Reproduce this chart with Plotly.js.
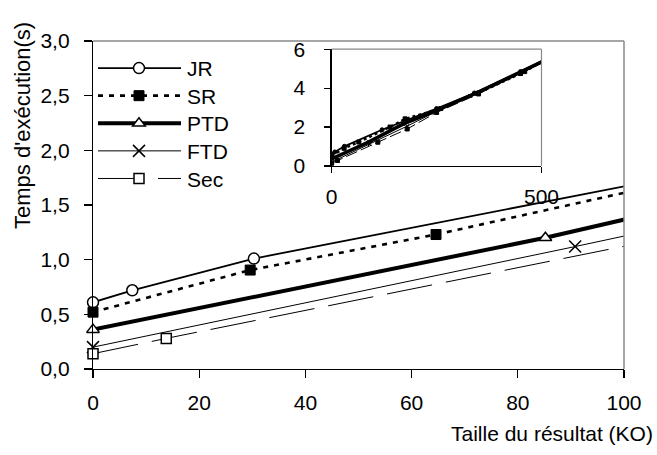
<!DOCTYPE html>
<html><head><meta charset="utf-8">
<script src="https://cdn.plot.ly/plotly-3.0.1.min.js"></script>
<style>html,body{margin:0;padding:0;background:#fff}</style>
</head><body>
<div id="chart" style="width:657px;height:455px"></div>
<script>
// ---- data ----
const seriesNames = ['JR', 'SR', 'PTD', 'FTD', 'Sec'];
const jrX  = [0, 7.4, 30.3, 120, 250, 340, 450, 520];
const jrY  = [0.61, 0.72, 1.01, 1.86, 2.95, 3.75, 4.85, 5.6];
const srX  = [0, 29.6, 64.6, 139, 175, 260, 350, 460, 520];
const srY  = [0.52, 0.905, 1.23, 2.0, 2.42, 2.95, 3.75, 4.85, 5.6];
const ptdX = [0, 85.2, 170, 250, 340, 450, 520];
const ptdY = [0.36, 1.20, 2.15, 2.85, 3.7, 4.8, 5.55];
const ftdX = [0, 90.8, 180, 250, 330, 450, 520];
const ftdY = [0.20, 1.12, 2.05, 2.8, 3.6, 4.75, 5.5];
const secX = [0, 13.8, 110, 180, 250, 350, 450, 520];
const secY = [0.14, 0.28, 1.22, 1.9, 2.75, 3.7, 4.75, 5.5];

const yTitle = "Temps d'exécution(s)";
const xTitle = "Taille du résultat (KO)";

const FONT = '"Liberation Sans", Arial, sans-serif';
const FS = 21;

const xs = [jrX, srX, ptdX, ftdX, secX];
const ys = [jrY, srY, ptdY, ftdY, secY];
const lineStyles = [
  {color: '#000', width: 1.8, dash: 'solid'},
  {color: '#000', width: 2.6, dash: '5px,6px'},
  {color: '#000', width: 4, dash: 'solid'},
  {color: '#000', width: 1, dash: 'solid'},
  {color: '#000', width: 1, dash: '46px,14px'}
];
const markerStyles = [
  {symbol: 'circle', size: 11, color: '#fff', line: {color: '#000', width: 1.5}},
  {symbol: 'square', size: 10, color: '#000', line: {color: '#000', width: 1}},
  {symbol: 'triangle-up', size: 11, color: '#fff', line: {color: '#000', width: 1.5}},
  {symbol: 'x-thin', size: 12, color: '#000', line: {color: '#000', width: 1.5}},
  {symbol: 'square', size: 10, color: '#fff', line: {color: '#000', width: 1.5}}
];
const insetLines = [
  {color: '#000', width: 1.8, dash: 'solid'},
  {color: '#000', width: 2.4, dash: '3px,3px'},
  {color: '#000', width: 3.5, dash: 'solid'},
  {color: '#000', width: 1, dash: 'solid'},
  {color: '#000', width: 1, dash: '12px,4px'}
];

const traces = [];
seriesNames.forEach((n, i) => {
  traces.push({
    type: 'scatter', mode: 'lines+markers', name: n,
    x: xs[i], y: ys[i], xaxis: 'x', yaxis: 'y',
    line: lineStyles[i], marker: markerStyles[i], cliponaxis: false
  });
});
seriesNames.forEach((n, i) => {
  traces.push({
    type: 'scatter', mode: 'lines+markers', name: n, showlegend: false,
    x: xs[i], y: ys[i], xaxis: 'x2', yaxis: 'y2',
    line: insetLines[i],
    marker: {symbol: markerStyles[i].symbol, size: 4, color: '#000', line: {color: '#000', width: 1}}
  });
});

const axBase = {
  showline: true, linecolor: '#000', linewidth: 1.2, mirror: false,
  showgrid: false, zeroline: false, ticks: 'outside', tickcolor: '#000',
  tickwidth: 1.2, tickfont: {family: FONT, size: FS, color: '#000'}, fixedrange: true
};

const layout = {
  width: 657, height: 455,
  paper_bgcolor: '#fff', plot_bgcolor: 'rgba(0,0,0,0)',
  margin: {l: 93, r: 33, t: 41, b: 86},
  separators: ', ',
  font: {family: FONT, size: FS, color: '#000'},
  showlegend: true,
  legend: {
    x: 0.0, xanchor: 'left', y: 0.985, yanchor: 'top',
    bgcolor: 'rgba(0,0,0,0)', borderwidth: 0,
    font: {family: FONT, size: FS, color: '#000'},
    itemwidth: 84, tracegroupgap: 0
  },
  xaxis: Object.assign({}, axBase, {
    domain: [0, 1], anchor: 'y', range: [0, 100], tick0: 0, dtick: 20,
    ticklen: 8, ticklabelstandoff: 7
  }),
  yaxis: Object.assign({}, axBase, {
    domain: [0, 1], anchor: 'x', range: [0, 3], tick0: 0, dtick: 0.5,
    tickformat: '.1f', ticklen: 8, ticklabelstandoff: 10
  }),
  xaxis2: Object.assign({}, axBase, {
    domain: [0.4495, 0.8446], anchor: 'y2', range: [0, 500], tick0: 0, dtick: 500,
    ticklen: 6, ticklabelstandoff: 6
  }),
  yaxis2: Object.assign({}, axBase, {
    domain: [0.619, 0.975], anchor: 'x2', range: [0, 6], tick0: 0, dtick: 2,
    ticklen: 6, ticklabelstandoff: 15
  }),
  shapes: [
    {type: 'line', xref: 'paper', yref: 'paper', x0: 0, x1: 1, y0: 1, y1: 1, line: {color: '#888', width: 1.5}},
    {type: 'line', xref: 'paper', yref: 'paper', x0: 1, x1: 1, y0: 0, y1: 1, line: {color: '#888', width: 1.5}},
    {type: 'line', xref: 'x2 domain', yref: 'y2 domain', x0: 0, x1: 1, y0: 1, y1: 1, line: {color: '#888', width: 1.2}},
    {type: 'line', xref: 'x2 domain', yref: 'y2 domain', x0: 1, x1: 1, y0: 0, y1: 1, line: {color: '#888', width: 1.2}}
  ],
  annotations: [
    {text: yTitle, xref: 'paper', yref: 'paper', x: 0, y: 1, xanchor: 'center', yanchor: 'middle',
     xshift: -71, yshift: -85, textangle: -90, showarrow: false, font: {family: FONT, size: 22, color: '#000'}},
    {text: xTitle, xref: 'paper', yref: 'paper', x: 1, y: 0, xanchor: 'right', yanchor: 'middle',
     xshift: 31, yshift: -64, showarrow: false, font: {family: FONT, size: FS, color: '#000'}}
  ]
};

Plotly.newPlot('chart', traces, layout, {displayModeBar: false, staticPlot: true}).then(gd => {
  const items = gd.querySelectorAll('.legend .traces');
  let first = null;
  items.forEach((tr, i) => {
    tr.querySelectorAll('.legendlines path').forEach(p => p.setAttribute('d', 'M5,0h83'));
    tr.querySelectorAll('.legendpoints path.scatterpts').forEach(p => p.setAttribute('transform', 'translate(46,0)'));
    const m = /translate\(\s*([-\d.]+)[ ,]+([-\d.]+)\s*\)/.exec(tr.getAttribute('transform') || '');
    if (m) {
      const tx = parseFloat(m[1]), ty = parseFloat(m[2]);
      if (first === null) first = ty + 2;
      tr.setAttribute('transform', 'translate(' + tx + ',' + (first + i * 27.6) + ')');
    }
  });
});
</script>
</body></html>
